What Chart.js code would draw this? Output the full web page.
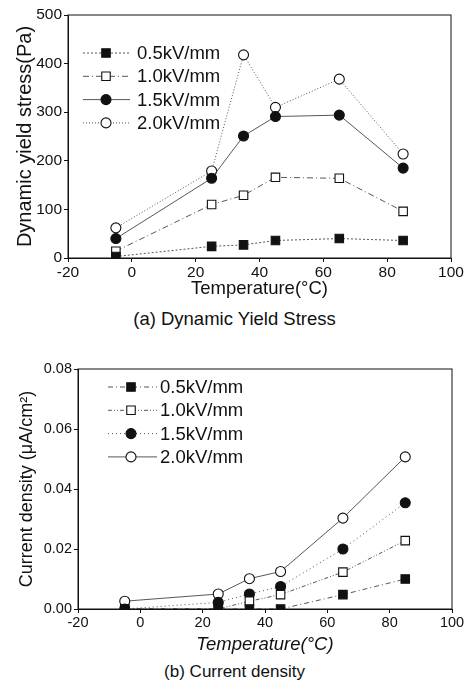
<!DOCTYPE html>
<html>
<head>
<meta charset="utf-8">
<script src="https://cdn.jsdelivr.net/npm/chart.js@4/dist/chart.umd.min.js"></script>
<style>
    body { margin: 0; background: #fff; width: 469px; height: 684px; position: relative; overflow: hidden;
           font-family: "Liberation Sans", Arial, sans-serif; }
    .box { position: absolute; left: 0; width: 469px; }
    .cap { position: absolute; left: 0; width: 469px; text-align: center; color: #111; line-height: 1.15; }
</style>
</head>
<body>
<div class="box" style="top:0;height:300px"><canvas id="stressChart"></canvas></div>
<div class="cap" style="top:308px;font-size:18.5px">(a) Dynamic Yield Stress</div>
<div class="box" style="top:350px;height:306px"><canvas id="currentChart"></canvas></div>
<div class="cap" style="top:662px;font-size:17px">(b) Current density</div>

<script>
// data
const temps = [-5, 25, 35, 45, 65, 85];
const fieldLabels = ['0.5kV/mm', '1.0kV/mm', '1.5kV/mm', '2.0kV/mm'];

const stress05 = [3, 24, 27, 36, 40, 36];
const stress10 = [14, 110, 129, 166, 164, 96];
const stress15 = [40, 164, 251, 291, 294, 185];
const stress20 = [62, 179, 418, 310, 368, 214];

const current05 = [0, 0, 0, 0, 0.0048, 0.0100];
const current10 = [0, 0, 0.0026, 0.0048, 0.0123, 0.0228];
const current15 = [0, 0.0022, 0.0050, 0.0075, 0.0200, 0.0354];
const current20 = [0.0026, 0.0050, 0.0101, 0.0125, 0.0303, 0.0507];

const tempTicks = [-20, 0, 20, 40, 60, 80, 100];
const stressTicks = [0, 100, 200, 300, 400, 500];
const currentTicks = [0, 0.02, 0.04, 0.06, 0.08];

const INK = '#111';
const FONT = '"Liberation Sans", Arial, sans-serif';

const markers = [
    { pointStyle: 'rect', radius: 6, fill: INK },
    { pointStyle: 'rect', radius: 6, fill: '#fff' },
    { pointStyle: 'circle', radius: 5, fill: INK },
    { pointStyle: 'circle', radius: 5, fill: '#fff' }
];

function makeDatasets(seriesList, dashes) {
    return seriesList.map((vals, i) => ({
        label: fieldLabels[i],
        data: temps.map((t, j) => ({ x: t, y: vals[j] })),
        showLine: true,
        borderColor: '#444',
        borderWidth: 0.9,
        borderDash: dashes[i],
        pointStyle: markers[i].pointStyle,
        pointRadius: markers[i].radius,
        pointBackgroundColor: markers[i].fill,
        pointBorderColor: INK,
        pointBorderWidth: 1.1
    }));
}

// box round the plot + hand drawn legend (line, marker, text)
const frameLegend = {
    id: 'frameLegend',
    afterDatasetsDraw(chart, args, opts) {
        const ctx = chart.ctx;
        const a = chart.chartArea;
        ctx.save();
        ctx.strokeStyle = INK;
        ctx.lineWidth = 1;
        ctx.strokeRect(a.left, a.top, a.right - a.left, a.bottom - a.top);

        chart.data.datasets.forEach((ds, i) => {
            const y = opts.y0 + i * opts.dy;
            ctx.strokeStyle = '#444';
            ctx.lineWidth = 0.9;
            ctx.setLineDash(ds.borderDash || []);
            ctx.beginPath();
            ctx.moveTo(opts.x0, y);
            ctx.lineTo(opts.x1, y);
            ctx.stroke();
            ctx.setLineDash([]);
            ctx.fillStyle = ds.pointBackgroundColor;
            ctx.strokeStyle = INK;
            ctx.lineWidth = 1.1;
            Chart.helpers.drawPoint(ctx, { pointStyle: ds.pointStyle, radius: ds.pointRadius, rotation: 0, borderWidth: 1.1 }, opts.mx, y);
            ctx.fillStyle = INK;
            ctx.font = opts.size + 'px ' + FONT;
            ctx.textAlign = 'left';
            ctx.textBaseline = 'middle';
            ctx.fillText(ds.label, opts.tx, y + 1);
        });
        ctx.restore();
    }
};

function makeOptions(cfg) {
    return {
        responsive: true,
        maintainAspectRatio: false,
        animation: false,
        layout: { padding: { top: cfg.padTop, right: cfg.padRight, left: cfg.padLeft, bottom: 0 } },
        plugins: {
            legend: { display: false },
            tooltip: { enabled: false },
            frameLegend: cfg.legend
        },
        scales: {
            x: {
                type: 'linear',
                min: -20, max: 100,
                afterBuildTicks: s => { s.ticks = tempTicks.map(v => ({ value: v })); },
                afterFit: s => { s.height = cfg.xHeight; },
                ticks: { color: INK, font: { family: FONT, size: cfg.tickSize }, padding: 1 },
                grid: { drawOnChartArea: false, tickLength: 4, color: INK },
                border: { color: INK, width: 1 },
                title: {
                    display: true, text: 'Temperature(°C)', color: INK,
                    font: { family: FONT, size: cfg.xTitleSize, style: cfg.xItalic ? 'italic' : 'normal' },
                    padding: { top: 0, bottom: 0 }
                }
            },
            y: {
                min: cfg.yMin, max: cfg.yMax,
                afterBuildTicks: s => { s.ticks = cfg.yTicks.map(v => ({ value: v })); },
                afterFit: s => { s.width = cfg.yWidth; },
                ticks: { color: INK, font: { family: FONT, size: cfg.tickSize }, padding: 2, callback: cfg.yFormat },
                grid: { drawOnChartArea: false, tickLength: 4, color: INK },
                border: { color: INK, width: 1 },
                title: {
                    display: true, text: cfg.yTitle, color: INK,
                    font: { family: FONT, size: cfg.yTitleSize },
                    padding: { top: 0, bottom: 0 }
                }
            }
        }
    };
}

new Chart(document.getElementById('stressChart'), {
    type: 'scatter',
    data: {
        datasets: makeDatasets([stress05, stress10, stress15, stress20],
            [[2, 2], [6, 3, 1, 3], [], [1, 2]])
    },
    options: makeOptions({
        padTop: 15, padRight: 18, padLeft: 13, xHeight: 42, yWidth: 55,
        tickSize: 15.5, xTitleSize: 18.5, yTitleSize: 20,
        yMin: 0, yMax: 500, yTicks: stressTicks,
        yFormat: v => String(v),
        yTitle: 'Dynamic yield stress(Pa)',
        xItalic: false,
        legend: { x0: 83, x1: 130, mx: 106, tx: 137, y0: 53, dy: 23.3, size: 18.5 }
    }),
    plugins: [frameLegend]
});

new Chart(document.getElementById('currentChart'), {
    type: 'scatter',
    data: {
        datasets: makeDatasets([current05, current10, current15, current20],
            [[5, 3, 1, 3], [4, 2, 1, 2, 1, 2], [1, 3], []])
    },
    options: makeOptions({
        padTop: 19, padRight: 17, padLeft: 16, xHeight: 47, yWidth: 62,
        tickSize: 14.5, xTitleSize: 18.5, yTitleSize: 18,
        yMin: 0, yMax: 0.08, yTicks: currentTicks,
        yFormat: v => Number(v).toFixed(2),
        yTitle: 'Current density (μA/cm²)',
        xItalic: true,
        legend: { x0: 108, x1: 157, mx: 131, tx: 160, y0: 37, dy: 23.3, size: 18.5 }
    }),
    plugins: [frameLegend]
});
</script>
</body>
</html>
